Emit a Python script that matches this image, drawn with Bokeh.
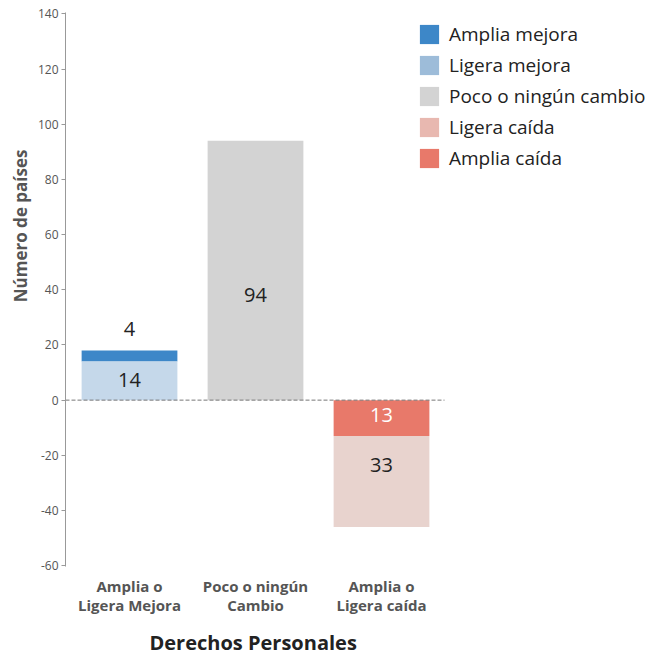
from bokeh.plotting import figure
from bokeh.models import (Range1d, FixedTicker, LinearAxis, Legend, LegendItem,
                          ColumnDataSource, Title)
from bokeh.core.properties import value
from bokeh.embed import file_html
from bokeh.resources import INLINE

FONT = "Open Sans"

# ---- data ----
categories = ["Amplia o\nLigera Mejora", "Poco o ningún\nCambio", "Amplia o\nLigera caída"]
series_names = ["Amplia mejora", "Ligera mejora", "Poco o ningún cambio", "Ligera caída", "Amplia caída"]
amplia_mejora = [4, 0, 0]
ligera_mejora = [14, 0, 0]
poco_cambio = [0, 94, 0]
ligera_caida = [0, 0, 33]
amplia_caida = [0, 0, 13]
y_ticks = [-60, -40, -20, 0, 20, 40, 60, 80, 100, 120, 140]
x_title = "Derechos Personales"
y_title = "Número de países"
# where each value label sits (data units)
label_pos = {"Amplia mejora": 25.8, "Ligera mejora": 7.2, "Poco o ningún cambio": 38.0,
             "Amplia caída": -5.5, "Ligera caída": -23.5}

legend_colors = ["#3d87c8", "#9dbcd9", "#d3d3d3", "#e8b8b0", "#e8796a"]
bar_colors = ["#3d87c8", "#c5d8ea", "#d3d3d3", "#e8d3ce", "#e8796a"]
label_colors = ["#222222", "#222222", "#222222", "#222222", "#ffffff"]

xs = list(range(len(categories)))

# stacked extents
pos_base = [0] * len(xs)
neg_base = [0] * len(xs)
segments = {}
for name, vals in [("Ligera mejora", ligera_mejora), ("Amplia mejora", amplia_mejora),
                   ("Poco o ningún cambio", poco_cambio)]:
    bottoms = pos_base[:]
    tops = [b + v for b, v in zip(bottoms, vals)]
    pos_base = tops
    segments[name] = (bottoms, tops, vals)
for name, vals in [("Amplia caída", amplia_caida), ("Ligera caída", ligera_caida)]:
    tops = neg_base[:]
    bottoms = [t - v for t, v in zip(tops, vals)]
    neg_base = bottoms
    segments[name] = (bottoms, tops, vals)

x_lo = -0.508
frame_w = 582
p = figure(frame_width=frame_w, frame_height=554, output_backend="svg", toolbar_location=None,
           x_range=Range1d(x_lo, x_lo + frame_w / 126), y_range=Range1d(-60.3, 140.5),
           min_border_left=65, min_border_right=0, min_border_top=12, min_border_bottom=0,
           x_axis_location=None, y_axis_location=None)
p.outline_line_color = None
p.xgrid.visible = False
p.ygrid.visible = False
p.background_fill_color = "white"
p.border_fill_color = "white"

bar_w = 0.76
for i, name in enumerate(series_names):
    b, t, v = segments[name]
    src = ColumnDataSource(dict(
        x=[x for x, val in zip(xs, v) if val],
        bottom=[bb for bb, val in zip(b, v) if val],
        top=[tt for tt, val in zip(t, v) if val]))
    p.vbar(x="x", bottom="bottom", top="top", width=bar_w, source=src,
           fill_color=bar_colors[i], line_color=None)

# zero line across the category area
p.line(x=[x_lo, len(categories) - 0.5], y=[0, 0], line_color="#777777",
       line_dash="4 2", line_width=1)

# value labels
for i, name in enumerate(series_names):
    b, t, v = segments[name]
    lx = [x for x, val in zip(xs, v) if val]
    lt = [str(val) for val in v if val]
    p.text(x=lx, y=[label_pos[name]] * len(lx), text=lt,
           text_align="center", text_baseline="middle",
           text_font=value(FONT), text_font_size="20px", text_color=label_colors[i])

# legend swatches: zero-height bars in the legend colours
items = []
for i, name in enumerate(series_names):
    r = p.vbar(x=xs, bottom=[0] * len(xs), top=[0] * len(xs), width=0.5,
               fill_color=legend_colors[i], line_color=None)
    items.append(LegendItem(label=name, renderers=[r], index=0))
legend = Legend(items=items, location=(352, 395), orientation="vertical",
                glyph_width=24, glyph_height=24, label_height=24, spacing=5,
                label_standoff=8, padding=0, margin=0,
                border_line_color=None, background_fill_alpha=0,
                label_text_font=FONT, label_text_font_size="19px",
                label_text_color="#222222")
p.add_layout(legend, "center")

# y axis
yaxis = LinearAxis(ticker=FixedTicker(ticks=y_ticks),
                   major_label_overrides={t: str(t) for t in y_ticks})
yaxis.axis_line_color = "#999999"
yaxis.major_tick_line_color = "#999999"
yaxis.major_tick_out = 4
yaxis.major_tick_in = 0
yaxis.minor_tick_line_color = None
yaxis.major_label_text_font = FONT
yaxis.major_label_text_font_size = "12px"
yaxis.major_label_text_color = "#555555"
yaxis.major_label_standoff = 3
p.add_layout(yaxis, "left")

p.add_layout(Title(text=y_title, align="right", offset=137,
                   text_font=FONT, text_font_size="17px", text_font_style="bold",
                   text_color="#555555", standoff=6), "left")

# x axis
xaxis = LinearAxis(ticker=FixedTicker(ticks=xs),
                   major_label_overrides={x: c for x, c in zip(xs, categories)})
xaxis.axis_line_color = None
xaxis.major_tick_line_color = None
xaxis.major_tick_out = 0
xaxis.minor_tick_line_color = None
xaxis.major_label_standoff = 9
xaxis.major_label_text_font = FONT
xaxis.major_label_text_font_size = "15px"
xaxis.major_label_text_font_style = "bold"
xaxis.major_label_text_color = "#555555"
xaxis.major_label_text_line_height = 0.95
p.add_layout(xaxis, "below")

p.add_layout(Title(text=x_title, align="left", offset=84,
                   text_font=FONT, text_font_size="20px", text_font_style="bold",
                   text_color="#222222", standoff=19), "below")

open("out.html", "w").write(file_html(p, INLINE))
